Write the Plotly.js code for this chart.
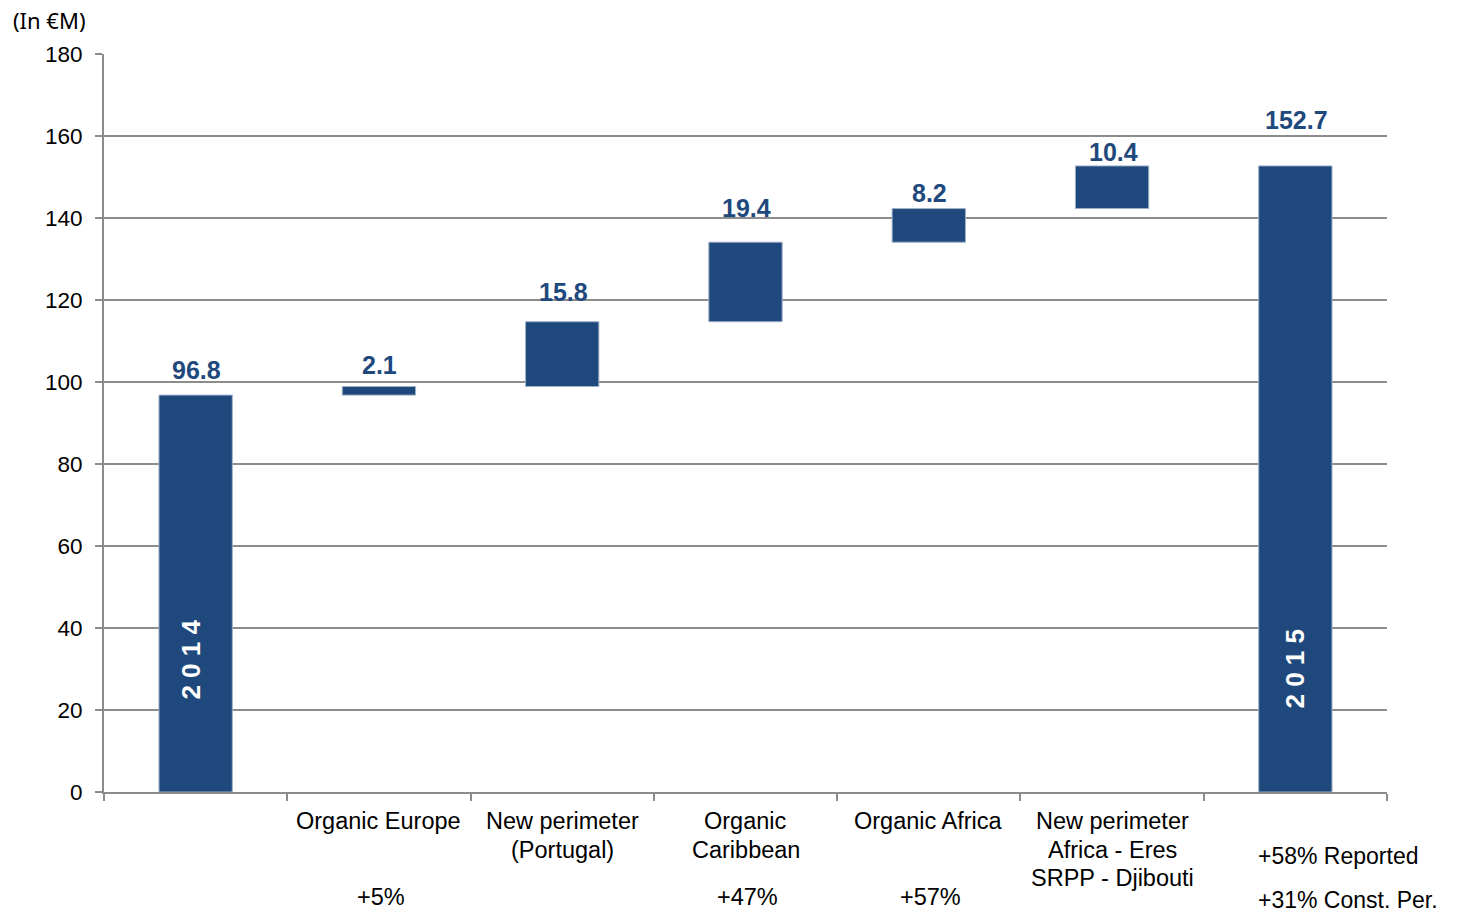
<!DOCTYPE html>
<html>
<head>
<meta charset="utf-8">
<script src="https://cdn.plot.ly/plotly-3.0.1.min.js"></script>
<style>html,body{margin:0;padding:0;background:#fff;}#chart{width:1462px;height:912px;}</style>
</head>
<body>
<div id="chart"></div>
<script>
// ---- data ----
const categories = ['Year 2014', 'Organic Europe', 'New perimeter (Portugal)', 'Organic Caribbean', 'Organic Africa', 'New perimeter Africa - Eres SRPP - Djibouti', 'Year 2015'];
const values = [96.8, 2.1, 15.8, 19.4, 8.2, 10.4, 152.7];
const measures = ['absolute', 'relative', 'relative', 'relative', 'relative', 'relative', 'total'];
const valueLabels = ['96.8', '2.1', '15.8', '19.4', '8.2', '10.4', '152.7'];
const categoryLines = [[], ['Organic Europe'], ['New perimeter', '(Portugal)'], ['Organic', 'Caribbean'], ['Organic Africa'], ['New perimeter', 'Africa - Eres', 'SRPP - Djibouti'], []];
const growthLabels = ['', '+5%', '', '+47%', '+57%', '', ''];
const totalNotes = ['+58% Reported', '+31% Const. Per.'];
const yearLabels = ['2 0 1 4', '', '', '', '', '', '2 0 1 5'];
const yearLabelValues = [32.2, null, null, null, null, null, 30.2];
const unitLabel = '(In €M)';

// ---- styles ----
const BLUE = '#1F497D';
const GRID = '#8C8C8C';
const FONT = 'Liberation Sans, Arial, sans-serif';
const labelShift = [25, 21.5, 30, 34, 15.6, 14, 46];

const trace = {
  type: 'waterfall',
  x: categories,
  y: values,
  measure: measures,
  increasing: {marker: {color: BLUE, line: {color: '#9DB0C8', width: 1}}},
  decreasing: {marker: {color: BLUE}},
  totals: {marker: {color: BLUE, line: {color: '#9DB0C8', width: 1}}},
  connector: {visible: false},
  textinfo: 'none',
  hoverinfo: 'skip',
  cliponaxis: false
};

// cumulative tops
const tops = [];
let run = 0;
values.forEach((v, i) => {
  if (measures[i] === 'absolute') run = v;
  else if (measures[i] === 'relative') run += v;
  tops.push(run);
});

const annotations = [];
valueLabels.forEach((t, i) => {
  annotations.push({
    x: categories[i], y: tops[i], xref: 'x', yref: 'y',
    text: '<b>' + t + '</b>', showarrow: false,
    yanchor: 'middle', xanchor: 'center', yshift: labelShift[i], xshift: 1,
    font: {family: FONT, size: 25, color: BLUE}
  });
});
categoryLines.forEach((lines, i) => {
  lines.forEach((ln, j) => {
    annotations.push({
      x: categories[i], y: 0, xref: 'x', yref: 'paper',
      text: ln, showarrow: false, yanchor: 'middle', xanchor: 'center',
      yshift: -29 - j * 28.5,
      font: {family: FONT, size: 23.5, color: '#000'}
    });
  });
});
growthLabels.forEach((t, i) => {
  if (!t) return;
  annotations.push({
    x: categories[i], y: 0, xref: 'x', yref: 'paper',
    text: t, showarrow: false, yanchor: 'middle', xanchor: 'center',
    yshift: -105, xshift: 2,
    font: {family: FONT, size: 23.5, color: '#000'}
  });
});
totalNotes.forEach((t, j) => {
  annotations.push({
    x: categories[categories.length - 1], y: 0, xref: 'x', yref: 'paper',
    text: t, showarrow: false, yanchor: 'middle', xanchor: 'left',
    xshift: -39, yshift: -64 - j * 44,
    font: {family: FONT, size: 23, color: '#000'}
  });
});
yearLabels.forEach((t, i) => {
  if (!t) return;
  annotations.push({
    x: categories[i], y: yearLabelValues[i], xref: 'x', yref: 'y',
    text: '<b>' + t + '</b>', showarrow: false, textangle: -90,
    xanchor: 'center', yanchor: 'middle', xshift: i === 0 ? -5 : 0,
    font: {family: FONT, size: 26, color: '#FFFFFF'}
  });
});
annotations.push({
  x: 0, y: 1, xref: 'paper', yref: 'paper', text: unitLabel, showarrow: false,
  xanchor: 'left', yanchor: 'middle', xshift: -93, yshift: 34,
  font: {family: 'Noto Sans, sans-serif', size: 22, color: '#000'}
});

const layout = {
  width: 1462, height: 912,
  margin: {l: 104, r: 75, t: 54, b: 120},
  paper_bgcolor: '#fff', plot_bgcolor: '#fff',
  showlegend: false,
  waterfallgap: 0.6,
  font: {family: FONT, color: '#000'},
  xaxis: {
    type: 'category', categoryorder: 'array', categoryarray: categories,
    range: [-0.5, categories.length - 0.5], autorange: false,
    showticklabels: false, showgrid: false,
    showline: true, linecolor: GRID, linewidth: 2,
    ticks: 'outside', tickson: 'boundaries', ticklen: 7, tickcolor: GRID, tickwidth: 2,
    zeroline: false, fixedrange: true
  },
  yaxis: {
    range: [0, 180], dtick: 20, tick0: 0,
    showgrid: true, gridcolor: GRID, gridwidth: 2,
    showline: true, linecolor: GRID, linewidth: 2,
    ticks: 'outside', ticklen: 7, tickcolor: GRID, tickwidth: 2,
    ticklabelstandoff: 8,
    tickfont: {family: FONT, size: 22.5, color: '#000'},
    zeroline: false, fixedrange: true
  },
  annotations: annotations
};

Plotly.newPlot('chart', [trace], layout, {displayModeBar: false, staticPlot: true});
</script>
</body>
</html>
